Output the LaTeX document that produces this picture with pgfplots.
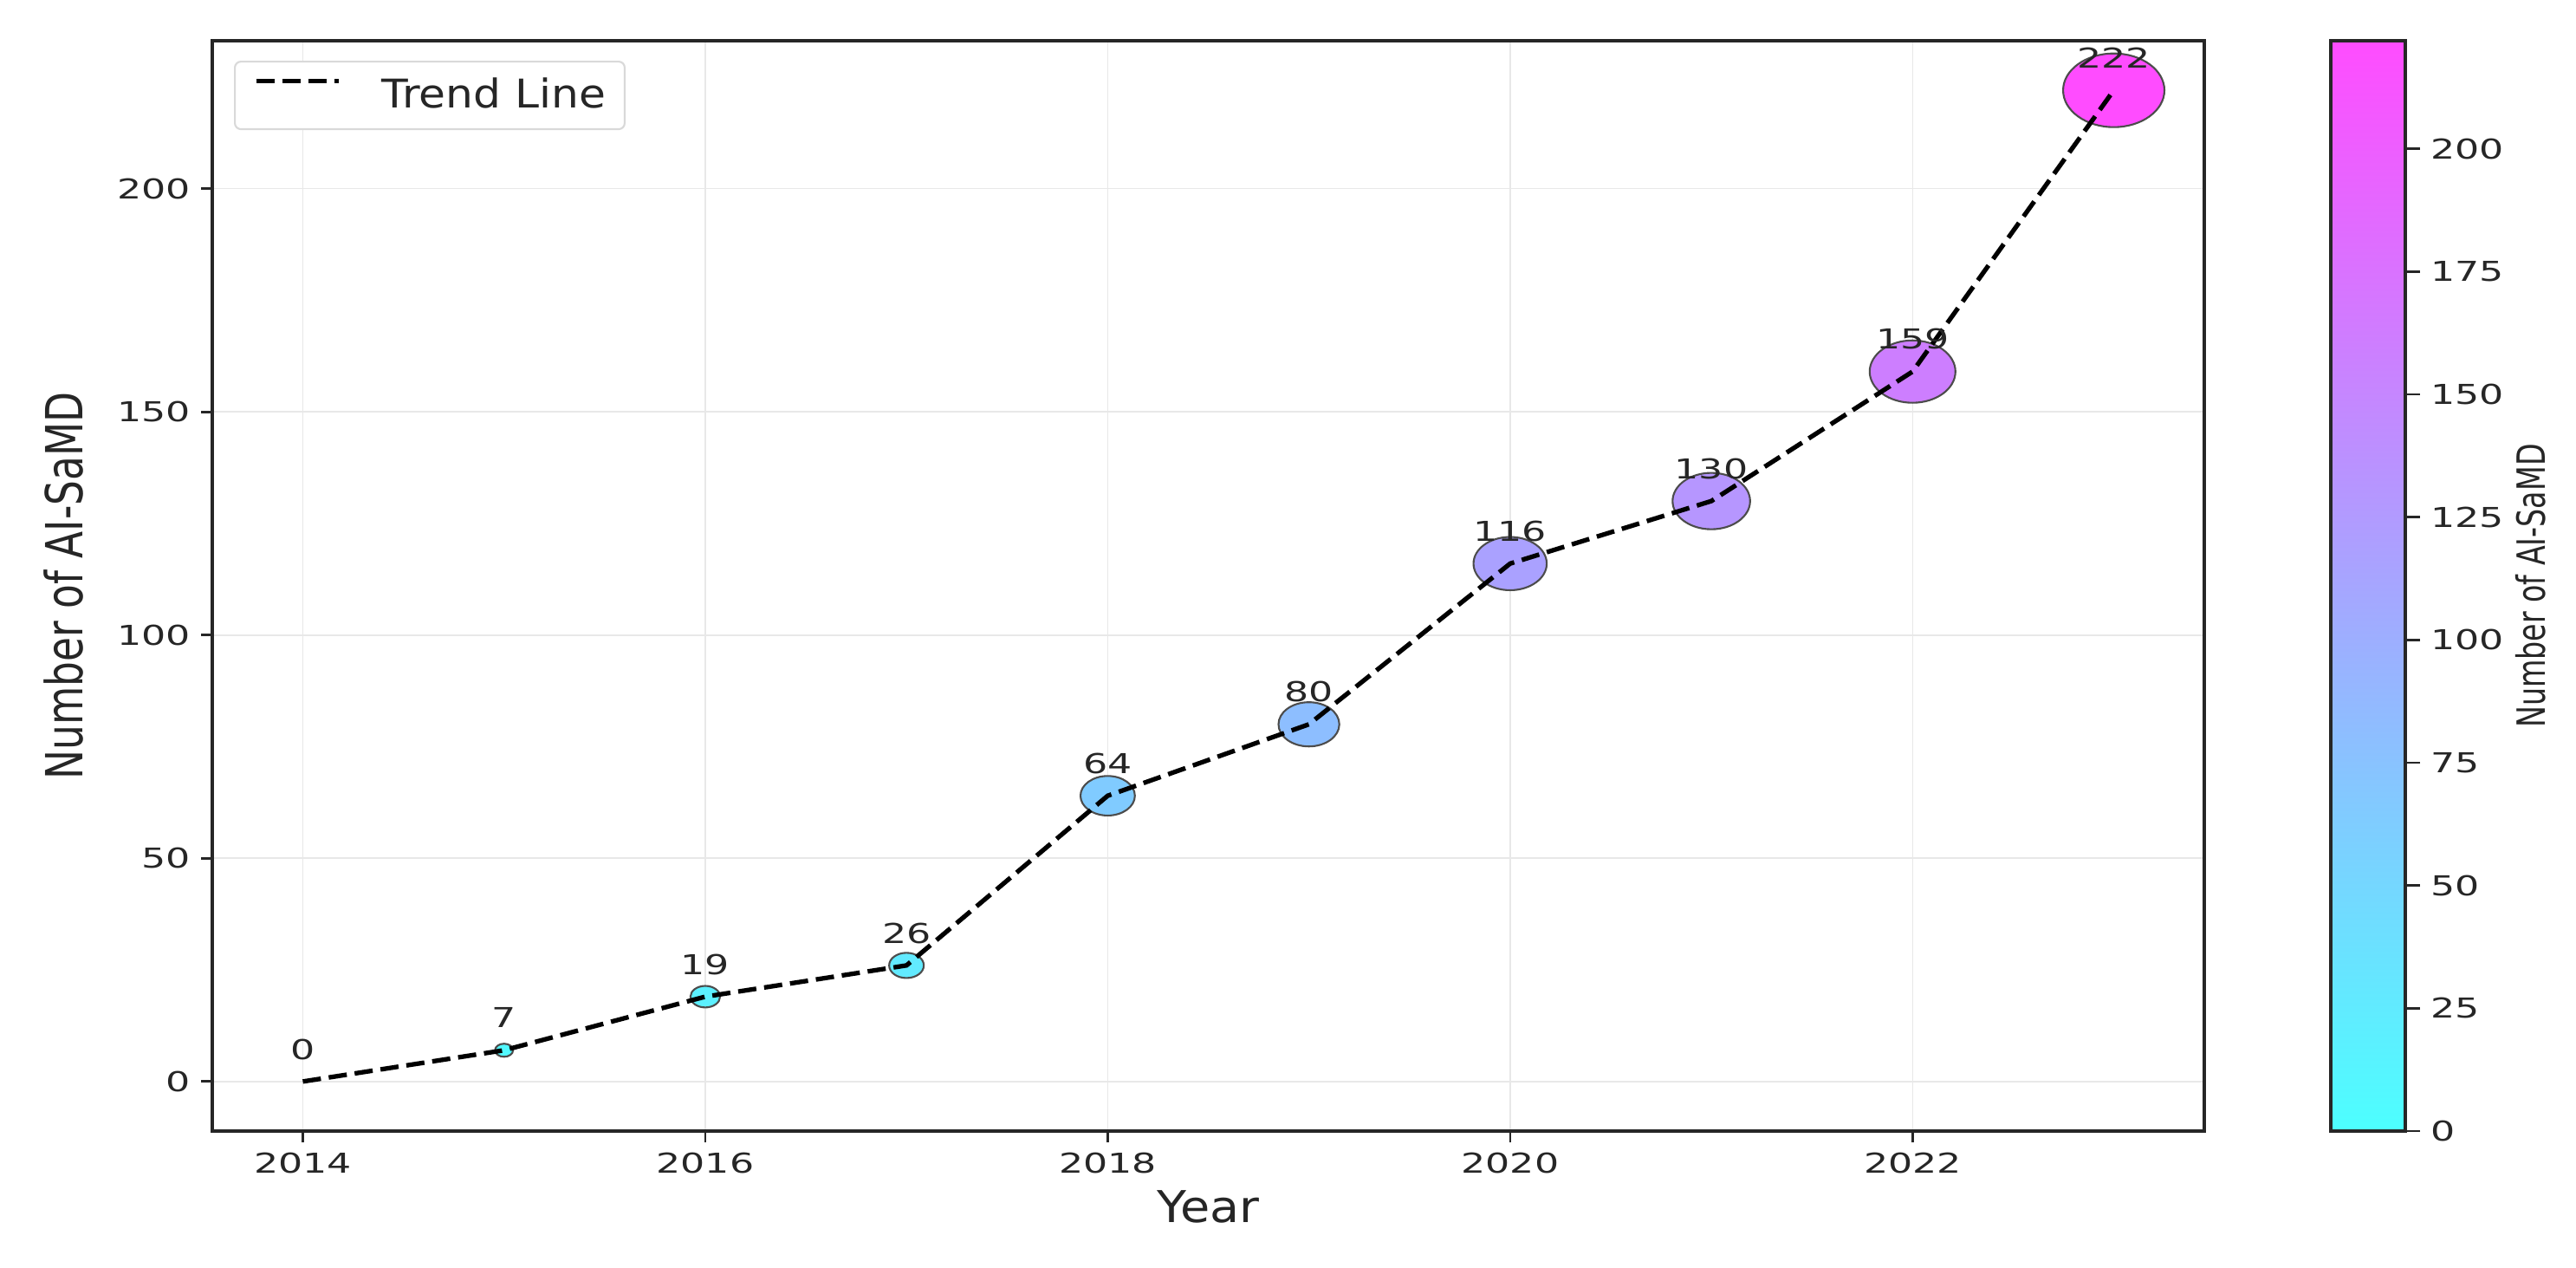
\documentclass[border=0pt]{standalone}
\usepackage{fontspec}
\setmainfont{DejaVu Sans}
\newfontfamily\tickfont{DejaVu Sans}[FakeStretch=1.4]
\newfontfamily\labfont{DejaVu Sans}[FakeStretch=1.1]
\newfontfamily\yfont{DejaVu Sans}[FakeStretch=0.77]
\newfontfamily\cbfont{DejaVu Sans}[FakeStretch=0.74]
\usepackage{pgfplots}
\usepackage{pgfplotstable}
\pgfplotsset{compat=1.18}

\pgfplotstableread{
year n
2014 0
2015 7
2016 19
2017 26
2018 64
2019 80
2020 116
2021 130
2022 159
2023 222
}\data

\definecolor{txt}{HTML}{262626}
\pgfplotsset{
  bub/.style={scatter, only marks, mark=*, mark size=#1, point meta=y,
    scatter/use mapped color={draw=black!70, fill=mapped color, line width=0.6pt},
    mark options={xscale=1.376}, forget plot},
  cool/.style={colormap={cool}{rgb=(0.3,1,1) rgb=(1,0.3,1)}, point meta min=0, point meta max=222},
}

\begin{document}
\begin{tikzpicture}
\path[use as bounding box] (0,0) rectangle (297.3mm,146.2mm);
\begin{axis}[
  at={(24.5mm,15.7mm)}, anchor=south west,
  scale only axis, width=229.9mm, height=125.8mm,
  xmin=2013.55, xmax=2023.45, ymin=-11.1, ymax=233.1,
  clip mode=individual,
  xtick={2014,2016,...,2022}, ytick={0,50,...,200},
  xtick pos=bottom, ytick pos=left, tick align=outside,
  major tick length=1.3mm,
  every tick/.style={black!85, line width=0.8pt},
  /pgf/number format/assume math mode=true,
  /pgf/number format/1000 sep={},
  xticklabel style={font=\tickfont\fontsize{9}{10}\selectfont, text=txt},
  yticklabel style={font=\tickfont\fontsize{9}{10}\selectfont, text=txt},
  grid=major, major grid style={black!9, line width=0.5pt},
  axis line style={black!85, line width=0.9pt},
  every axis x label/.style={at={(axis description cs:0.5,0)}, anchor=base, yshift=-10.5mm},
  every axis y label/.style={at={(axis description cs:0,0.5)}, anchor=center, xshift=-17.2mm, rotate=90},
  xlabel={Year}, xlabel style={font=\labfont\fontsize{14.4}{16}\selectfont, text=txt},
  ylabel={Number of AI-SaMD}, ylabel style={font=\yfont\fontsize{16.8}{18}\selectfont, text=txt},
  cool,
  legend style={at={(axis description cs:0,1)}, anchor=north west, xshift=2.5mm, yshift=-2.3mm,
    draw=black!15, line width=0.6pt, rounded corners=2pt, inner xsep=2.2mm, inner ysep=1.9mm,
    nodes={inner sep=0pt},
    font=\labfont\fontsize{13}{15}\selectfont, text=txt},
  legend cell align=left,
  legend image code/.code={\draw[#1] (0mm,1.67mm) -- (9.5mm,1.67mm); \path[draw=none] (0,0) -- (14.5mm,0);},
]
\addplot[bub=0pt]      coordinates {(2014,0)};
\addplot[bub=2.147pt]  coordinates {(2015,7)};
\addplot[bub=3.537pt]  coordinates {(2016,19)};
\addplot[bub=4.137pt]  coordinates {(2017,26)};
\addplot[bub=6.491pt]  coordinates {(2018,64)};
\addplot[bub=7.258pt]  coordinates {(2019,80)};
\addplot[bub=8.739pt]  coordinates {(2020,116)};
\addplot[bub=9.252pt]  coordinates {(2021,130)};
\addplot[bub=10.232pt] coordinates {(2022,159)};
\addplot[bub=12.09pt]  coordinates {(2023,222)};
\addplot[black, line width=1.5pt, dash pattern=on 6pt off 2.6pt,
  point meta=\thisrow{n},
  nodes near coords,
  nodes near coords style={anchor=base, yshift=2.58mm, inner sep=0pt, text=txt,
     font=\tickfont\fontsize{9}{10}\selectfont, /pgf/number format/assume math mode=true},
  ] table[x=year, y=n]{\data};
\addlegendentry{Trend Line}
\end{axis}
\begin{axis}[
  at={(269.0mm,15.7mm)}, anchor=south west,
  scale only axis, width=8.6mm, height=125.8mm,
  xmin=0, xmax=1, ymin=0, ymax=222, enlargelimits=false,
  xtick=\empty, ytick={0,25,...,200}, ytick pos=right, yticklabel pos=right,
  tick align=outside, major tick length=1.7mm,
  every tick/.style={black!85, line width=0.8pt},
  axis line style={black!85, line width=0.9pt},
  axis on top,
  /pgf/number format/assume math mode=true,
  yticklabel style={font=\tickfont\fontsize{9}{10}\selectfont, text=txt, anchor=west},
  ylabel={Number of AI-SaMD},
  every axis y label/.style={at={(axis description cs:1,0.5)}, anchor=center, xshift=14.5mm, rotate=90},
  ylabel style={font=\cbfont\fontsize{12.8}{14}\selectfont, text=txt},
  cool,
]
\addplot[surf, shader=interp, mesh/cols=2, point meta=y] coordinates {(0,0) (1,0) (0,222) (1,222)};
\end{axis}
\end{tikzpicture}
\end{document}
